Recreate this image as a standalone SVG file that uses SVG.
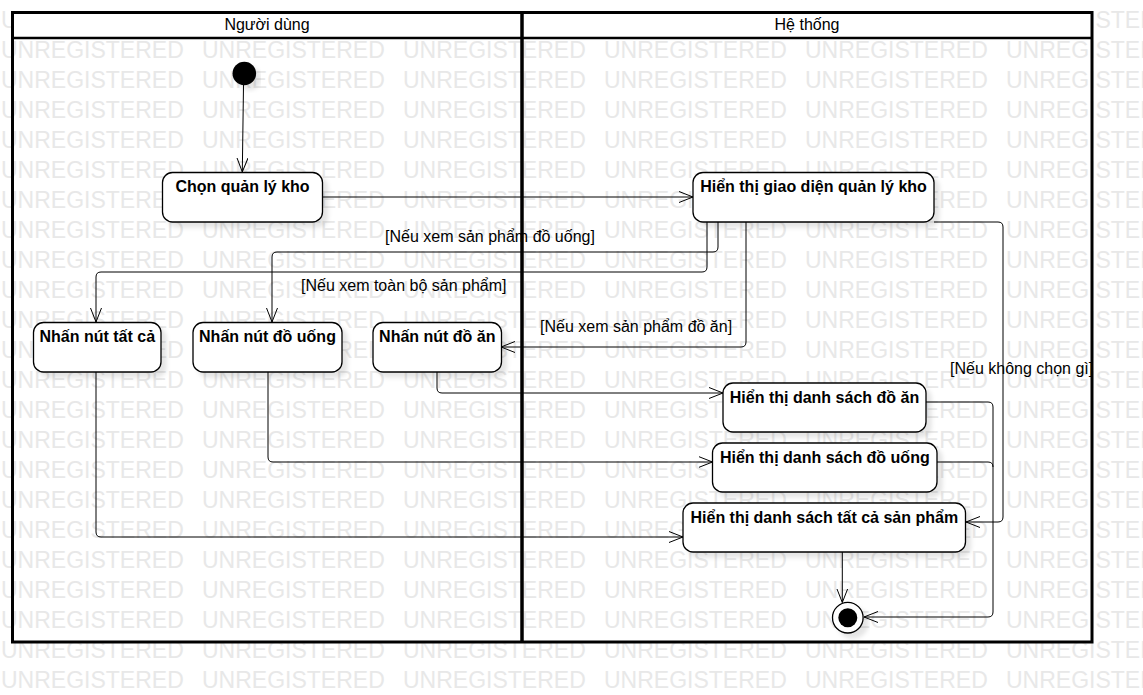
<svg xmlns="http://www.w3.org/2000/svg" xmlns:xlink="http://www.w3.org/1999/xlink" width="1143" height="695" viewBox="0 0 1143 695">
<style>
.wm{font-family:"Liberation Sans",Arial,sans-serif;font-size:23px;fill:#e8e8e8}
.node{fill:#fff;stroke:#000;stroke-width:1.3}
.nt{font-family:"Liberation Sans",Arial,sans-serif;font-size:16px;font-weight:bold;fill:#000;text-anchor:middle}
.lbl{font-family:"Liberation Sans",Arial,sans-serif;font-size:16px;fill:#000}
.lane{font-family:"Liberation Sans",Arial,sans-serif;font-size:16px;fill:#000;text-anchor:middle}
.edge{fill:none;stroke:#000;stroke-width:1;marker-end:url(#arr)}
.edge2{fill:none;stroke:#000;stroke-width:1}
</style>
<defs>
<marker id="arr" markerUnits="userSpaceOnUse" markerWidth="16" markerHeight="12" refX="14" refY="6" orient="auto">
<path d="M0,0.5 L14,6 L0,11.5" fill="none" stroke="#000" stroke-width="1"/>
</marker>
<filter id="sh" x="-10%" y="-10%" width="130%" height="140%">
<feDropShadow dx="5" dy="5" stdDeviation="2" flood-color="#000" flood-opacity="0.1"/>
</filter>
<g id="wmrow">
<text class="wm" y="0"><tspan x="1">UNREGISTERED</tspan><tspan x="202">UNREGISTERED</tspan><tspan x="403">UNREGISTERED</tspan><tspan x="604">UNREGISTERED</tspan><tspan x="805">UNREGISTERED</tspan><tspan x="1006">UNREGISTERED</tspan></text>
</g>
</defs>
<rect x="0" y="0" width="1143" height="695" fill="#fff"/>
<g id="watermark">
<use xlink:href="#wmrow" y="28"/><use xlink:href="#wmrow" y="58"/><use xlink:href="#wmrow" y="88"/><use xlink:href="#wmrow" y="118"/>
<use xlink:href="#wmrow" y="148"/><use xlink:href="#wmrow" y="178"/><use xlink:href="#wmrow" y="208"/><use xlink:href="#wmrow" y="238"/>
<use xlink:href="#wmrow" y="268"/><use xlink:href="#wmrow" y="298"/><use xlink:href="#wmrow" y="328"/><use xlink:href="#wmrow" y="358"/>
<use xlink:href="#wmrow" y="388"/><use xlink:href="#wmrow" y="418"/><use xlink:href="#wmrow" y="448"/><use xlink:href="#wmrow" y="478"/>
<use xlink:href="#wmrow" y="508"/><use xlink:href="#wmrow" y="538"/><use xlink:href="#wmrow" y="568"/><use xlink:href="#wmrow" y="598"/>
<use xlink:href="#wmrow" y="628"/><use xlink:href="#wmrow" y="658"/><use xlink:href="#wmrow" y="688"/>
</g>
<g id="pool">
<rect x="12.5" y="12.5" width="1079.5" height="25.5" fill="#fff"/>
<rect x="12.5" y="12.5" width="1079.5" height="629.5" fill="none" stroke="#000" stroke-width="3"/>
<line x1="12.5" y1="38" x2="1092" y2="38" stroke="#000" stroke-width="2.5"/>
<line x1="522" y1="12.5" x2="522" y2="642" stroke="#000" stroke-width="3.5"/>
<text class="lane" x="267" y="30">Người dùng</text>
<text class="lane" x="807" y="30">Hệ thống</text>
</g>
<g id="edges">
<path class="edge" d="M243.5,85 L242.3,172"/>
<path class="edge" d="M322,197 H693"/>
<path class="edge" d="M718,222 V247 Q718,252 713,252 H277 Q272,252 272,257 V322"/>
<path class="edge" d="M707,222 V267 Q707,272 702,272 H101 Q96,272 96,277 V322"/>
<path class="edge" d="M746,222 V342 Q746,347 741,347 H501"/>
<path class="edge" d="M934,222 H998 Q1003,222 1003,227 V517 Q1003,522 998,522 H966"/>
<path class="edge" d="M437,372 V388 Q437,393 442,393 H723"/>
<path class="edge" d="M268,372 V457 Q268,462 273,462 H712.5"/>
<path class="edge" d="M96,372 V532 Q96,537 101,537 H683"/>
<path class="edge" d="M926,402 H988 Q993,402 993,407 V612 Q993,617 988,617 H864"/>
<path class="edge2" d="M937,462 H988 Q993,462 993,467"/>
<path class="edge" d="M842.3,552 V602.5"/>
<text class="lbl" x="385" y="242">[Nếu xem sản phẩm đồ uống]</text>
<text class="lbl" x="301" y="291">[Nếu xem toàn bộ sản phẩm]</text>
<text class="lbl" x="540" y="332">[Nếu xem sản phẩm đồ ăn]</text>
<text class="lbl" x="950" y="374">[Nếu không chọn gì]</text>
</g>
<g id="start"><circle cx="244.3" cy="73.5" r="11.8" fill="#000" filter="url(#sh)"/></g>
<g id="n_chon"><rect class="node" x="162.5" y="172.5" width="160" height="49.5" rx="10" filter="url(#sh)"/><text class="nt" x="242.5" y="192">Chọn quản lý kho</text></g>
<g id="n_giaodien"><rect class="node" x="693" y="172.5" width="241" height="49.5" rx="10" filter="url(#sh)"/><text class="nt" x="813.5" y="192">Hiển thị giao diện quản lý kho</text></g>
<g id="n_tatca"><rect class="node" x="33.5" y="322.5" width="127.5" height="49.5" rx="10" filter="url(#sh)"/><text class="nt" x="97.3" y="342">Nhấn nút tất cả</text></g>
<g id="n_douong"><rect class="node" x="193" y="322.5" width="149" height="49.5" rx="10" filter="url(#sh)"/><text class="nt" x="267.5" y="342">Nhấn nút đồ uống</text></g>
<g id="n_doan"><rect class="node" x="373" y="322.5" width="128.5" height="49.5" rx="10" filter="url(#sh)"/><text class="nt" x="437.3" y="342">Nhấn nút đồ ăn</text></g>
<g id="n_dsdoan"><rect class="node" x="723" y="383" width="203" height="49" rx="10" filter="url(#sh)"/><text class="nt" x="824.5" y="403">Hiển thị danh sách đồ ăn</text></g>
<g id="n_dsdouong"><rect class="node" x="712.5" y="443" width="224.5" height="49" rx="10" filter="url(#sh)"/><text class="nt" x="824.8" y="463">Hiển thị danh sách đồ uống</text></g>
<g id="n_dstatca"><rect class="node" x="683" y="503" width="282.5" height="49" rx="10" filter="url(#sh)"/><text class="nt" x="824.3" y="523">Hiển thị danh sách tất cả sản phẩm</text></g>
<g id="end"><circle cx="847.8" cy="617.7" r="15.3" fill="#fff" stroke="#000" stroke-width="1.3" filter="url(#sh)"/><circle cx="847.8" cy="617.7" r="9.5" fill="#000"/></g>
</svg>
